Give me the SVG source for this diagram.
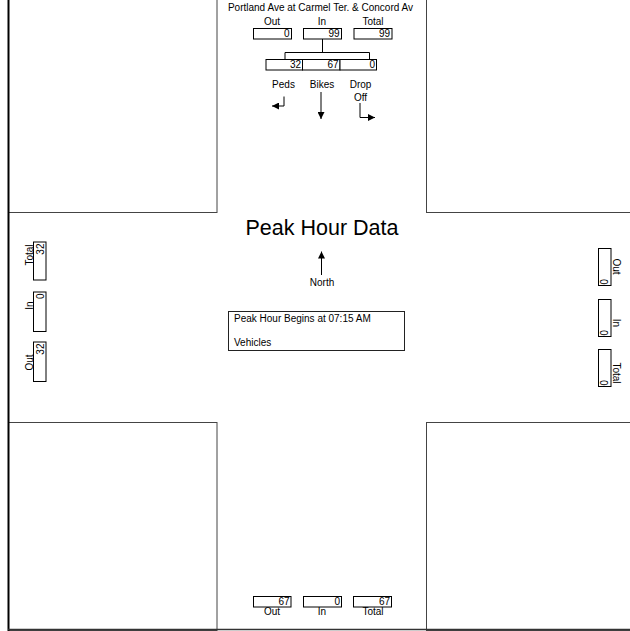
<svg xmlns="http://www.w3.org/2000/svg" width="630" height="631" viewBox="0 0 630 631">
<defs>
<style>
text{font-family:"Liberation Sans",Arial,sans-serif;font-size:10px;fill:#000}
.box{fill:#fff;stroke:#000;stroke-width:1}
.blk{fill:none;stroke:#444;stroke-width:1}
.ln{fill:none;stroke:#000;stroke-width:1}
.num{text-anchor:end}
.mid{text-anchor:middle}
</style>
<marker id="ah" viewBox="0 0 8 8" refX="8" refY="4" markerWidth="7" markerHeight="7" markerUnits="userSpaceOnUse" orient="auto">
<path d="M0,0 L8,4 L0,8 z" fill="#000"/>
</marker>
</defs>
<rect width="630" height="631" fill="#fff"/>
<g id="frame">
<rect class="blk" x="8.5" y="-1" width="208.5" height="213.5"/>
<rect class="blk" x="426.5" y="-1" width="205" height="213.5"/>
<rect class="blk" x="8.5" y="422.5" width="208.5" height="208"/>
<rect class="blk" x="426.5" y="422.5" width="205" height="208"/>
<line x1="8.5" y1="0" x2="8.5" y2="631" stroke="#000" stroke-width="2"/>
<line x1="8" y1="629.5" x2="630" y2="629.5" stroke="#333" stroke-width="1.5"/>
</g>
<g id="title">
<text class="mid" x="320.5" y="10.5">Portland Ave at Carmel Ter. &amp; Concord Av</text>
<text class="mid" x="322" y="235" style="font-size:21.5px">Peak Hour Data</text>
</g>
<g id="north-out">
<text class="mid" x="272" y="25">Out</text>
<rect class="box" x="253.5" y="28.5" width="38" height="10.5"/>
<text class="num" x="289.5" y="37">0</text>
</g>
<g id="north-in">
<text class="mid" x="322" y="25">In</text>
<rect class="box" x="303.5" y="28.5" width="38" height="10.5"/>
<text class="num" x="339.5" y="37">99</text>
</g>
<g id="north-total">
<text class="mid" x="373" y="25">Total</text>
<rect class="box" x="354" y="28.5" width="38" height="10.5"/>
<text class="num" x="390" y="37">99</text>
</g>
<g id="north-peds">
<rect class="box" x="266" y="59.5" width="36.5" height="10.5"/>
<text class="num" x="301" y="68">32</text>
<text class="mid" x="283.5" y="88">Peds</text>
</g>
<g id="north-bikes">
<rect class="box" x="302.5" y="59.5" width="37.5" height="10.5"/>
<text class="num" x="338.5" y="68">67</text>
<text class="mid" x="322" y="88">Bikes</text>
</g>
<g id="north-dropoff">
<rect class="box" x="340" y="59.5" width="36.5" height="10.5"/>
<text class="num" x="375" y="68">0</text>
<text class="mid" x="360.5" y="88">Drop</text>
<text class="mid" x="360.5" y="100.5">Off</text>
</g>
<g id="connectors">
<path class="ln" d="M322.5,39 V52.5 M285,52.5 H369.5 M285,52.5 V59.5 M369.5,52.5 V59.5"/>
<path class="ln" d="M284,96.5 V106 H272" marker-end="url(#ah)"/>
<path class="ln" d="M321,92 V119" marker-end="url(#ah)"/>
<path class="ln" d="M360,103 V117.5 H375" marker-end="url(#ah)"/>
<path class="ln" d="M321.5,275 V251.5" marker-end="url(#ah)"/>
</g>
<g id="north-label">
<text class="mid" x="322" y="286">North</text>
</g>
<g id="info">
<rect x="228.5" y="311.5" width="176" height="39" fill="#fff" stroke="#222" stroke-width="1"/>
<text x="234" y="321.5">Peak Hour Begins at 07:15 AM</text>
<text x="234" y="346">Vehicles</text>
</g>
<g id="west-total">
<rect class="box" x="33.5" y="242" width="12.5" height="38"/>
<text class="mid" transform="translate(32.5,255) rotate(-90)">Total</text>
<text class="num" transform="translate(43.5,243.5) rotate(-90)">32</text>
</g>
<g id="west-in">
<rect class="box" x="33.5" y="292" width="12.5" height="39.5"/>
<text class="mid" transform="translate(32.5,305.5) rotate(-90)">In</text>
<text class="num" transform="translate(43.5,293.5) rotate(-90)">0</text>
</g>
<g id="west-out">
<rect class="box" x="33.5" y="342" width="12.5" height="39.5"/>
<text class="mid" transform="translate(32.5,362.5) rotate(-90)">Out</text>
<text class="num" transform="translate(43.5,343.5) rotate(-90)">32</text>
</g>
<g id="east-out">
<rect class="box" x="598.5" y="248.5" width="12.5" height="37"/>
<text class="mid" transform="translate(612.5,266.5) rotate(90)">Out</text>
<text class="num" transform="translate(600,284.5) rotate(90)">0</text>
</g>
<g id="east-in">
<rect class="box" x="598.5" y="299.5" width="12.5" height="37"/>
<text class="mid" transform="translate(612.5,323) rotate(90)">In</text>
<text class="num" transform="translate(600,335.5) rotate(90)">0</text>
</g>
<g id="east-total">
<rect class="box" x="598.5" y="349.5" width="12.5" height="37"/>
<text class="mid" transform="translate(612.5,373) rotate(90)">Total</text>
<text class="num" transform="translate(600,385.5) rotate(90)">0</text>
</g>
<g id="south-out">
<rect class="box" x="253.5" y="596.5" width="37.5" height="10.5"/>
<text class="num" x="289.5" y="605">67</text>
<text class="mid" x="272" y="615">Out</text>
</g>
<g id="south-in">
<rect class="box" x="303.5" y="596.5" width="38" height="10.5"/>
<text class="num" x="340" y="605">0</text>
<text class="mid" x="322" y="615">In</text>
</g>
<g id="south-total">
<rect class="box" x="353.5" y="596.5" width="38" height="10.5"/>
<text class="num" x="390" y="605">67</text>
<text class="mid" x="373" y="615">Total</text>
</g>
</svg>
